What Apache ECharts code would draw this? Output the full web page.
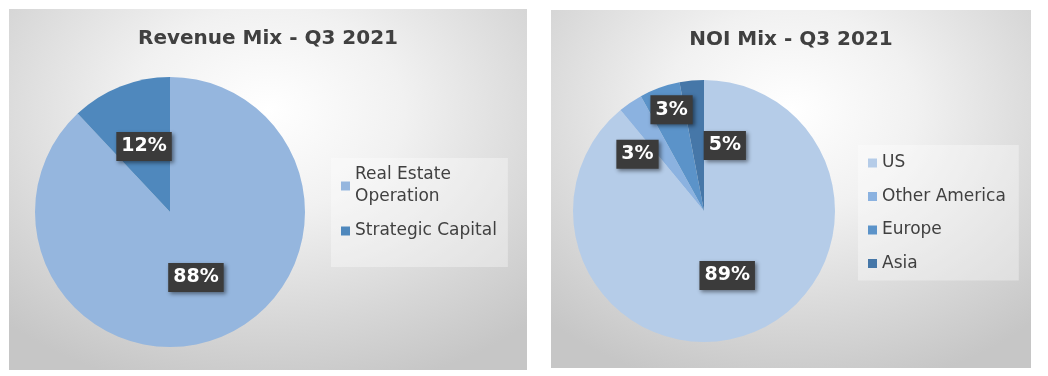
<!DOCTYPE html>
<html>
<head>
<meta charset="utf-8">
<script src="https://cdn.jsdelivr.net/npm/echarts@6/dist/echarts.min.js"></script>
<style>
  html, body { margin: 0; padding: 0; background: #fff; }
  body { width: 1048px; height: 376px; position: relative; overflow: hidden; }
  .panel {
    position: absolute;
    background: radial-gradient(ellipse 75% 80% at 50% 28%, #ffffff 0%, #f1f1f1 35%, #d6d6d6 75%, #c6c6c6 100%);
  }
  #revenue { left: 9px; top: 9px; width: 518px; height: 361px; }
  #noi { left: 551px; top: 10px; width: 480px; height: 358px; }
</style>
</head>
<body>
<div id="revenue" class="panel"></div>
<div id="noi" class="panel"></div>
<script>
const revenueCategories = ['Real Estate Operation', 'Strategic Capital'];
const revenueShares = [88, 12];
const revenueColors = ['#95b6de', '#4f88bd'];

const noiCategories = ['US', 'Other America', 'Europe', 'Asia'];
const noiShares = [89, 3, 5, 3];
const noiColors = ['#b5cce8', '#8bb2e0', '#5b93c9', '#4677a8'];

const FONT = "'DejaVu Sans', sans-serif";

// Excel nudged the small-slice labels off the wedges; mimic with offsets
const noiLabelOffsets = [[0, 0], [-28, 0], [44, -1], [-26, -33]];

const labelBox = {
  show: true,
  position: 'inside',
  formatter: p => p.value + '%',
  color: '#fff',
  fontFamily: FONT,
  fontWeight: 'bold',
  fontSize: 19,
  backgroundColor: '#3b3b3b',
  padding: [6, 5, 4, 5],
  shadowColor: 'rgba(0,0,0,0.45)',
  shadowBlur: 4,
  shadowOffsetX: 2,
  shadowOffsetY: 2,
};

function wrapName(name) {
  return name.length > 18 ? name.replace(/ (\S+)$/, '\n$1') : name;
}

function buildOption(cfg) {
  return {
    animation: false,
    title: {
      text: cfg.title,
      left: 'center',
      top: 15,
      textStyle: { fontFamily: FONT, fontSize: 20, fontWeight: 'bold', color: '#404040' },
    },
    legend: {
      orient: 'vertical',
      left: cfg.legendLeft,
      top: cfg.legendTop,
      padding: cfg.legendPadding,
      backgroundColor: 'rgba(255,255,255,0.35)',
      itemWidth: 9,
      itemHeight: 9,
      itemGap: cfg.legendGap,
      icon: 'rect',
      formatter: wrapName,
      textStyle: { fontFamily: FONT, fontSize: 17, color: '#404040', lineHeight: 22 },
    },
    series: [{
      type: 'pie',
      center: cfg.center,
      radius: cfg.radius,
      startAngle: 90,
      clockwise: true,
      silent: true,
      label: labelBox,
      labelLine: { show: false },
      data: cfg.names.map((name, i) => ({
        name,
        value: cfg.values[i],
        itemStyle: { color: cfg.colors[i] },
        label: cfg.offsets ? { offset: cfg.offsets[i] } : undefined,
      })),
    }],
  };
}

const revenueChart = echarts.init(document.getElementById('revenue'));
revenueChart.setOption(buildOption({
  title: 'Revenue Mix - Q3 2021',
  names: revenueCategories,
  values: revenueShares,
  colors: revenueColors,
  center: [161, 203],
  radius: 135,
  legendLeft: 322,
  legendTop: 149,
  legendPadding: [6, 11, 25, 10],
  legendGap: 12,
}));

const noiChart = echarts.init(document.getElementById('noi'));
noiChart.setOption(buildOption({
  title: 'NOI Mix - Q3 2021',
  names: noiCategories,
  values: noiShares,
  colors: noiColors,
  center: [153, 201],
  radius: 131,
  offsets: noiLabelOffsets,
  legendLeft: 307,
  legendTop: 135,
  legendPadding: [7, 13, 6, 10],
  legendGap: 11.5,
}));
</script>
</body>
</html>
